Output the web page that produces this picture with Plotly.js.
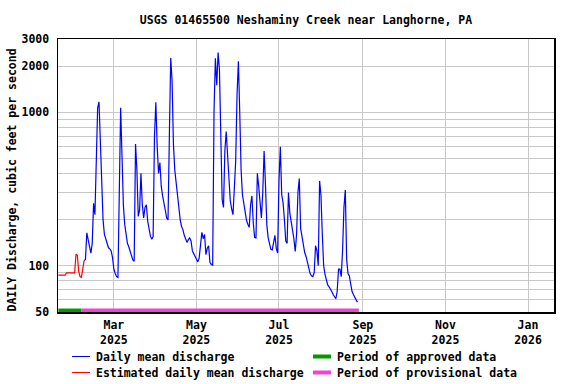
<!DOCTYPE html>
<html><head><meta charset="utf-8">
<script src="https://cdn.plot.ly/plotly-3.0.1.min.js"></script>
<style>html,body{margin:0;padding:0;background:#fff}#chart{width:576px;height:384px}</style>
</head><body><div id="chart"></div>
<script>
// ---- data ----
const estimatedStart = "2025-01-19";
const estimatedValues = [87,87,87,87,87,87, 90,90,90,90,90,90,90, 119,117,92,85,84,99,108];

const dailyStart = "2025-02-07";
const dailyValues = [
  108,110,164,150,133,121,140,255,215,614,
  1065,1170,627,306,199,160,150,138,131,129,
  125,113,95,89,85,84,400,1070,520,250,
  186,160,140,133,124,115,109,107,620,420,
  210,230,400,250,205,240,250,195,168,156,
  149,155,700,1160,600,400,470,330,285,260,
  230,205,199,700,2260,1600,620,420,345,270,
  225,200,180,172,158,150,142,148,152,145,
  125,120,115,111,106,112,134,165,150,160,
  118,130,135,105,102,101,1020,2250,1500,2450,
  1900,500,270,240,560,750,520,330,265,235,
  215,320,480,1300,2150,1000,420,290,250,215,
  198,186,178,250,285,190,153,152,400,330,
  240,205,300,560,340,185,152,137,128,127,
  142,158,130,121,360,595,290,258,200,145,
  140,300,220,195,175,150,124,160,300,370,
  175,155,135,122,115,104,94,89,86,85,
  90,135,125,100,357,290,160,100,88,80,
  75,73,71,68,65,63,61,68,95,95,
  85,127,240,312,110,89,86,76,68,65,
  63,60,58
];

const approvedPeriod = ["2025-01-19", "2025-02-05"];
const provisionalPeriod = ["2025-02-05", "2025-08-29"];

const xTickDates = ["2025-03-01","2025-05-01","2025-07-01","2025-09-01","2025-11-01","2026-01-01"];
const xTickLabels = ["Mar<br>2025","May<br>2025","Jul<br>2025","Sep<br>2025","Nov<br>2025","Jan<br>2026"];
const yTickValues = [50,60,70,80,90,100,200,300,400,500,600,700,800,900,1000,2000,3000];
const yTickLabels = ["50","","","","","100","","","","","","","","","1000","2000","3000"];

const titleText = "USGS 01465500 Neshaminy Creek near Langhorne, PA";
const yTitleText = "DAILY Discharge, cubic feet per second";
const legendLabels = ["Daily mean discharge","Estimated daily mean discharge","Period of approved data","Period of provisional data"];

// ---- helpers ----
function dayDates(start, n) {
  const base = new Date(start + "T00:00:00Z");
  const out = [];
  for (let i = 0; i < n; i++) {
    const d = new Date(base.getTime() + i * 86400000);
    out.push(d.toISOString().slice(0, 10));
  }
  return out;
}

const W = 576, H = 384;
const M = {l: 58, r: 22, t: 39, b: 72};
const PW = W - M.l - M.r, PH = H - M.t - M.b;
const px = x => (x - M.l) / PW;
const py = y => (M.t + PH - y) / PH;

const BLUE = "#0000ff", RED = "#ff0000", GREEN = "#009a00", PINK = "#ee44d4";
const FONT = {family: "DejaVu Sans Mono, monospace", size: 11.5, color: "#000", weight: "bold"};
const barLevel = 51.3;

const traces = [
  {x: dayDates(dailyStart, dailyValues.length), y: dailyValues, type: "scatter", mode: "lines",
   line: {color: BLUE, width: 1.2}, hoverinfo: "skip"},
  {x: dayDates(estimatedStart, estimatedValues.length), y: estimatedValues, type: "scatter", mode: "lines",
   line: {color: RED, width: 1.2}, hoverinfo: "skip"},
  {x: approvedPeriod, y: [barLevel, barLevel], type: "scatter", mode: "lines",
   line: {color: GREEN, width: 3.5}, hoverinfo: "skip"},
  {x: provisionalPeriod, y: [barLevel, barLevel], type: "scatter", mode: "lines",
   line: {color: PINK, width: 3.5}, hoverinfo: "skip"}
];

// legend drawn as shapes + text
const legendRows = [356.5, 372.5];
const shapes = [
  {type: "line", xref: "paper", yref: "paper", x0: px(72), x1: px(90), y0: py(legendRows[0]), y1: py(legendRows[0]), line: {color: BLUE, width: 1}},
  {type: "line", xref: "paper", yref: "paper", x0: px(72), x1: px(90), y0: py(legendRows[1]), y1: py(legendRows[1]), line: {color: RED, width: 1}},
  {type: "line", xref: "paper", yref: "paper", x0: px(313), x1: px(331), y0: py(legendRows[0]), y1: py(legendRows[0]), line: {color: GREEN, width: 4}},
  {type: "line", xref: "paper", yref: "paper", x0: px(313), x1: px(331), y0: py(legendRows[1]), y1: py(legendRows[1]), line: {color: PINK, width: 4}}
];
const legendTextPos = [[93.5, legendRows[0]], [93.5, legendRows[1]], [334.5, legendRows[0]], [334.5, legendRows[1]]];
const annotations = legendLabels.map((t, i) => ({
  text: t, xref: "paper", yref: "paper", x: px(legendTextPos[i][0]), y: py(legendTextPos[i][1]),
  xanchor: "left", yanchor: "middle", showarrow: false, font: FONT
}));
// y-axis title placed like the reference (slightly below plot centre)
annotations.push({
  text: yTitleText, xref: "paper", yref: "paper", x: px(12), y: py(180.5),
  xanchor: "center", yanchor: "middle", textangle: -90, showarrow: false, font: FONT
});

const layout = {
  width: W, height: H,
  margin: M,
  paper_bgcolor: "#fff", plot_bgcolor: "#fff",
  showlegend: false,
  title: {text: titleText, font: FONT, x: 0.5, xref: "paper", xanchor: "center",
          y: 1 - 20 / H, yref: "container", yanchor: "middle"},
  xaxis: {
    type: "date", range: ["2025-01-18 17:00", "2026-01-20 05:00"],
    tickvals: xTickDates, ticktext: xTickLabels, ticks: "",
    showgrid: true, gridcolor: "#c8c8c8", gridwidth: 1,
    showline: true, linecolor: "#000", linewidth: 1.5, mirror: true,
    zeroline: false, tickfont: FONT, ticklabelstandoff: 2, fixedrange: true
  },
  yaxis: {
    type: "log", range: [Math.log10(50), Math.log10(3000)],
    tickvals: yTickValues, ticktext: yTickLabels, ticks: "",
    showgrid: true, gridcolor: "#c8c8c8", gridwidth: 1,
    showline: true, linecolor: "#000", linewidth: 1.5, mirror: true,
    zeroline: false, tickfont: FONT, ticklabelstandoff: 5, fixedrange: true
  },
  shapes: shapes,
  annotations: annotations
};

Plotly.newPlot("chart", traces, layout, {staticPlot: true, displayModeBar: false});
</script>
</body></html>
